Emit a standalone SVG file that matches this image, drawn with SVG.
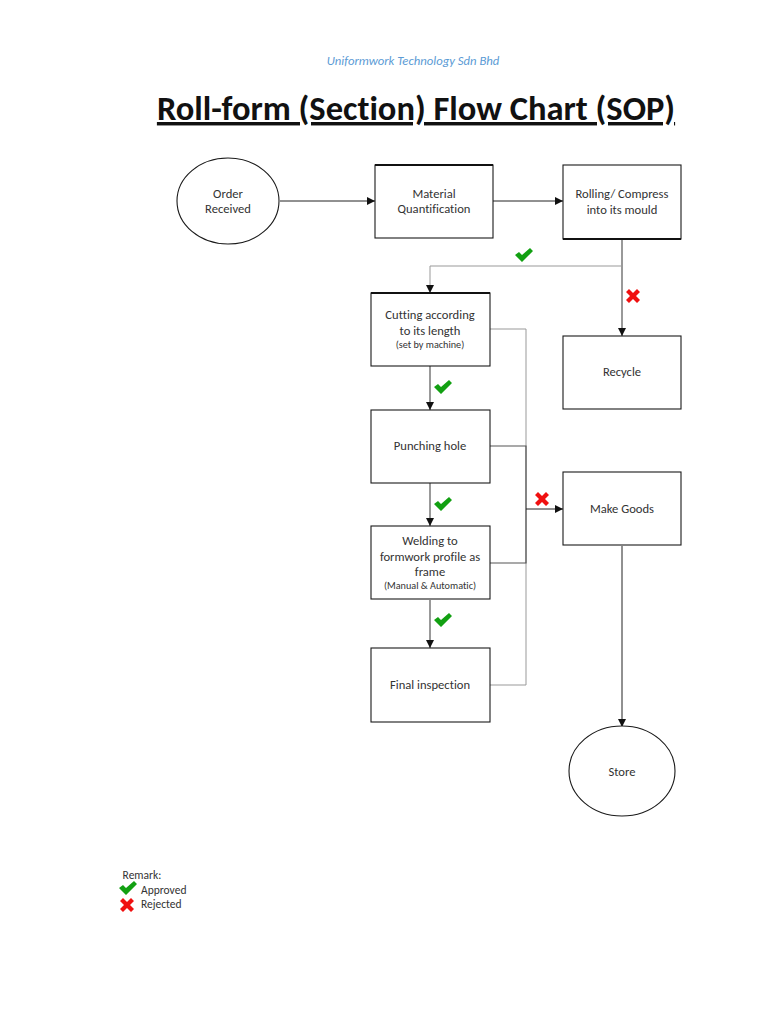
<svg xmlns="http://www.w3.org/2000/svg" width="768" height="1024" viewBox="0 0 768 1024">
<style>
text{font-family:"Carlito","Lato","Liberation Sans",Arial,sans-serif;fill:#333;text-anchor:middle;font-size:12.6px;font-variant-ligatures:none}
.s{font-size:10.2px}
.b{fill:#fff;stroke:#1a1a1a;stroke-width:1.1}
.e{fill:none;stroke:#111;stroke-width:2}
.l{fill:none;stroke:#555;stroke-width:1.2}
.g{fill:none;stroke:#999;stroke-width:1}
.k{fill:none;stroke:#222;stroke-width:1}
.ok{fill:#12a012}
.no{fill:#f01010}
</style>
<defs>
<marker id="a" markerWidth="9" markerHeight="8" refX="8" refY="4" orient="auto" markerUnits="userSpaceOnUse"><path d="M0 0L8 4L0 8Z" fill="#111"/></marker>
<path id="tick" d="M-9 0L-5 -3L-2 0L6 -7L9 -4L-2 7Z"/>
<path id="cross" d="M-7 -4L-4 -7L0 -3L4 -7L7 -4L3 0L7 4L4 7L0 3L-4 7L-7 4L-3 0Z"/>
</defs>
<rect width="768" height="1024" fill="#fff"/>
<text id="header" x="413" y="65" style="font-size:12.7px;font-style:italic;fill:#5b9bd5">Uniformwork Technology Sdn Bhd</text>
<text id="title" x="416" y="120" style="font-size:34.5px;font-weight:bold;fill:#111;text-decoration:underline">Roll-form (Section) Flow Chart (SOP)</text>
<g id="connectors">
<path class="k" d="M280 201H375" marker-end="url(#a)"/>
<path class="k" d="M493 201H563" marker-end="url(#a)"/>
<path class="l" d="M622 239V336" marker-end="url(#a)"/>
<path class="g" d="M622 266H430V293" marker-end="url(#a)"/>
<path class="l" d="M430 366V410" marker-end="url(#a)"/>
<path class="l" d="M430 483V526" marker-end="url(#a)"/>
<path class="l" d="M430 600V648" marker-end="url(#a)"/>
<path class="g" d="M490 329H526V685H490"/>
<path class="l" d="M490 446H526V563H490"/>
<path class="k" d="M526 509H563" marker-end="url(#a)"/>
<path class="k" d="M622 546V727" marker-end="url(#a)"/>
</g>
<g id="order"><ellipse class="b" cx="228" cy="201" rx="51" ry="43"/><text x="228" y="198">Order</text><text x="228" y="213">Received</text></g>
<g id="material"><rect class="b" x="375" y="165" width="118" height="73"/><path class="e" d="M375 165H493"/><text x="434" y="198">Material</text><text x="434" y="213">Quantification</text></g>
<g id="rolling"><rect class="b" x="563" y="165" width="118" height="74"/><path class="e" d="M563 239H681"/><text x="622" y="198">Rolling/ Compress</text><text x="622" y="214">into its mould</text></g>
<g id="cutting"><rect class="b" x="371" y="293" width="119" height="73"/><path class="e" d="M371 293H490"/><text x="430" y="319">Cutting according</text><text x="430" y="335">to its length</text><text class="s" x="430" y="348">(set by machine)</text></g>
<g id="recycle"><rect class="b" x="563" y="336" width="118" height="73"/><text x="622" y="376">Recycle</text></g>
<g id="punching"><rect class="b" x="371" y="410" width="119" height="73"/><text x="430" y="450">Punching hole</text></g>
<g id="makegoods"><rect class="b" x="563" y="472" width="118" height="73"/><text x="622" y="513">Make Goods</text></g>
<g id="welding"><rect class="b" x="371" y="526" width="119" height="73"/><text x="430" y="545">Welding to</text><text x="430" y="561">formwork profile as</text><text x="430" y="576">frame</text><text class="s" x="430" y="589">(Manual &amp; Automatic)</text></g>
<g id="final"><rect class="b" x="371" y="648" width="119" height="74"/><text x="430" y="689">Final inspection</text></g>
<g id="store"><ellipse class="b" cx="622" cy="771" rx="53" ry="45"/><text x="622" y="776">Store</text></g>
<g id="marks">
<use href="#tick" class="ok" x="524" y="255"/>
<use href="#cross" class="no" x="633" y="296"/>
<use href="#tick" class="ok" x="443" y="387"/>
<use href="#tick" class="ok" x="443" y="504"/>
<use href="#cross" class="no" x="542" y="499"/>
<use href="#tick" class="ok" x="443" y="620"/>
</g>
<g id="legend">
<text x="142" y="879" style="font-size:11.5px">Remark:</text>
<use href="#tick" class="ok" x="128" y="888"/>
<text x="141" y="894" style="font-size:11.5px;text-anchor:start">Approved</text>
<use href="#cross" class="no" x="127" y="905"/>
<text x="141" y="908" style="font-size:11.5px;text-anchor:start">Rejected</text>
</g>
</svg>
